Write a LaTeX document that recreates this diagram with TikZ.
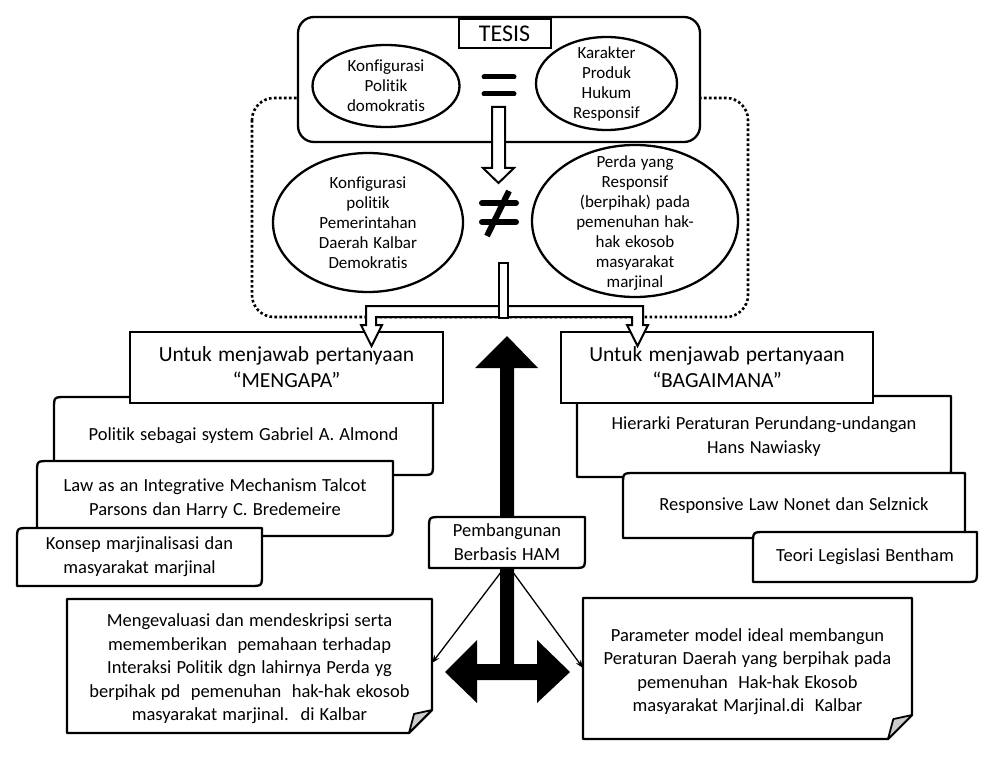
\documentclass[tikz,border=0pt]{standalone}
\usepackage{fontspec}
\setmainfont{Carlito}[Ligatures=CommonOff,WordSpace=1.25]
\usetikzlibrary{arrows.meta,shapes.geometric}
\tikzset{
  bl/.style={draw=black,line width=2.3pt,fill=white,line join=round},
  hollow/.style={draw=black,line width=2pt,fill=white,line join=miter},
  txt/.style={font=\fontsize{18.5}{24}\selectfont,align=center,inner sep=0pt},
  qtxt/.style={font=\fontsize{21.5}{26}\selectfont,align=center,inner sep=0pt},
  etxt/.style={font=\fontsize{17}{20}\selectfont,align=center,inner sep=0pt},
  ntxt/.style={font=\fontsize{18.5}{23.5}\selectfont,align=center,inner sep=0pt},
  ell/.style={ellipse,draw=black,line width=2.3pt,fill=white,inner sep=0pt},
  thinarr/.style={line width=1.3pt,-{Stealth[length=8pt,width=6pt]}},
  dotline/.style={line width=2.6pt,dash pattern=on 2.6pt off 2.4pt},
}
% diagonal-rounded box: name, x1, y1, x2, y2, text
\newcommand\mydbox[6]{%
  \draw[bl] (#2,#5) -- (#2,#3+12) .. controls (#2,#3) .. (#2+12,#3) -- (#4,#3) -- (#4,#5-12) .. controls (#4,#5) .. (#4-12,#5) -- cycle;
  \node[txt,minimum width={#4-#2},minimum height={#5-#3}] (#1) at ({(#2+#4)/2},{(#3+#5)/2}) {#6};
}
% folded-corner note: name, x1, y1, x2, y2, fold, text
\newcommand\mynote[7]{%
  \draw[bl] (#2,#3) -- (#4,#3) -- (#4,#5-#6) -- (#4-#6,#5) -- (#2,#5) -- cycle;
  \draw[draw=black,line width=1.8pt,fill=gray!40,line join=round] (#4,#5-#6) -- (#4-#6,#5) -- (#4-0.78*#6,#5-0.83*#6) -- cycle;
  \node[ntxt,minimum width={#4-#2},minimum height={#5-#3}] (#1) at ({(#2+#4)/2},{(#3+#5)/2+3}) {#7};
}
\begin{document}
\begin{tikzpicture}[x=1pt,y=-1pt]
\useasboundingbox (0,0) rectangle (992,759);
% dotted frame
\draw[dotline,rounded corners=22pt] (252,98) rectangle (748,317);
% TESIS block
\node[bl,rounded corners=16pt,minimum width=402pt,minimum height=125pt,inner sep=0pt] (tesisbox) at (499,79.5) {};
\node[bl,line width=2pt,line join=miter,minimum width=92pt,minimum height=29pt,inner sep=0pt,font=\fontsize{24}{28}\selectfont] (tesis) at (504.5,33.5) {TESIS};
\node[ell,minimum width=147pt,minimum height=82pt] (e1) at (386,86) {};
\node[etxt] at (e1) {Konfigurasi\\Politik\\domokratis};
\node[ell,minimum width=141pt,minimum height=93pt] (e2) at (606.5,83.5) {};
\node[etxt] at (e2) {Karakter\\Produk\\Hukum\\Responsif};
% equals sign
\draw[line width=5pt,line cap=round] (484,77) -- (514,77) (484,94) -- (514,94);
% hollow arrow down
\draw[hollow] (492,107) -- (505,107) -- (505,168) -- (514,168) -- (498.5,183) -- (483,168) -- (492,168) -- cycle;
% not-equal sign
\draw[line width=6pt,line cap=round] (482,203) -- (516,203) (482,222) -- (516,222);
\draw[line width=6pt] (509,191) -- (487,236);
% middle ellipses
\node[ell,minimum width=190pt,minimum height=139pt] (e3) at (368,222.5) {};
\node[etxt] at (e3) {Konfigurasi\\politik\\Pemerintahan\\Daerah Kalbar\\Demokratis};
\node[ell,minimum width=206pt,minimum height=152pt] (e4) at (635,221) {};
\node[etxt] at ([yshift=-2pt]e4) {Perda yang\\Responsif\\(berpihak) pada\\pemenuhan hak-\\hak ekosob\\masyarakat\\marjinal};
% first level boxes
\mydbox{l1}{54}{397}{433}{475}{Politik sebagai system Gabriel A. Almond}
\mydbox{r1}{577}{396}{951}{477}{Hierarki Peraturan Perundang-undangan\\Hans Nawiasky}
\node[bl,line join=miter,minimum width=313pt,minimum height=71pt,inner sep=0pt] (ql) at (286.5,367.5) {};
\node[qtxt] at (ql) {Untuk menjawab pertanyaan\\“MENGAPA”};
\node[bl,line join=miter,minimum width=312pt,minimum height=71pt,inner sep=0pt] (qr) at (717,367.5) {};
\node[qtxt] at (qr) {Untuk menjawab pertanyaan\\“BAGAIMANA”};
% split hollow arrow
\draw[hollow] (366,306) -- (643,306) -- (643,325) -- (648,325) -- (637.5,346) -- (627,325) -- (632,325) -- (632,317) -- (376,317) -- (376,325) -- (382,325) -- (371.5,346) -- (361,325) -- (366,325) -- cycle;
\draw[hollow] (499,263) rectangle (508,318);
% stacked boxes
\mydbox{l2}{37}{461}{393}{536}{Law as an Integrative Mechanism Talcot\\Parsons dan Harry C. Bredemeire}
\mydbox{l3}{17}{528}{262}{586}{Konsep marjinalisasi dan\\masyarakat marjinal}
\mydbox{r2}{623}{473}{965}{538}{Responsive Law Nonet dan Selznick}
\mydbox{r3}{753}{532}{977}{582}{Teori Legislasi Bentham}
% notes
\mynote{nl}{67}{599}{432}{733}{23}{Mengevaluasi dan mendeskripsi serta\\mememberikan \ pemahaan terhadap\\Interaksi Politik dgn lahirnya Perda yg\\berpihak pd \ pemenuhan \ hak-hak ekosob\\masyarakat marjinal. \ di Kalbar}
\mynote{nr}{583}{598}{912}{739}{24}{Parameter model ideal membangun\\Peraturan Daerah yang berpihak pada\\pemenuhan \ Hak-hak Ekosob\\masyarakat Marjinal.di \ Kalbar}
% big black arrows
\fill[black] (507,336) -- (538,368) -- (514,368) -- (514,664) -- (537,664) -- (537,640) -- (570,672) -- (537,703) -- (537,680) -- (477,680) -- (477,703) -- (445,672) -- (477,640) -- (477,664) -- (500,664) -- (500,368) -- (475,368) -- cycle;
% center box
\mydbox{hb}{429}{517}{585}{568}{Pembangunan\\Berbasis HAM}
% thin arrows
\draw[thinarr] ([xshift=-3pt]hb.south) -- (432,663);
\draw[thinarr] ([xshift=3pt]hb.south) -- (583,668);
\end{tikzpicture}
\end{document}
